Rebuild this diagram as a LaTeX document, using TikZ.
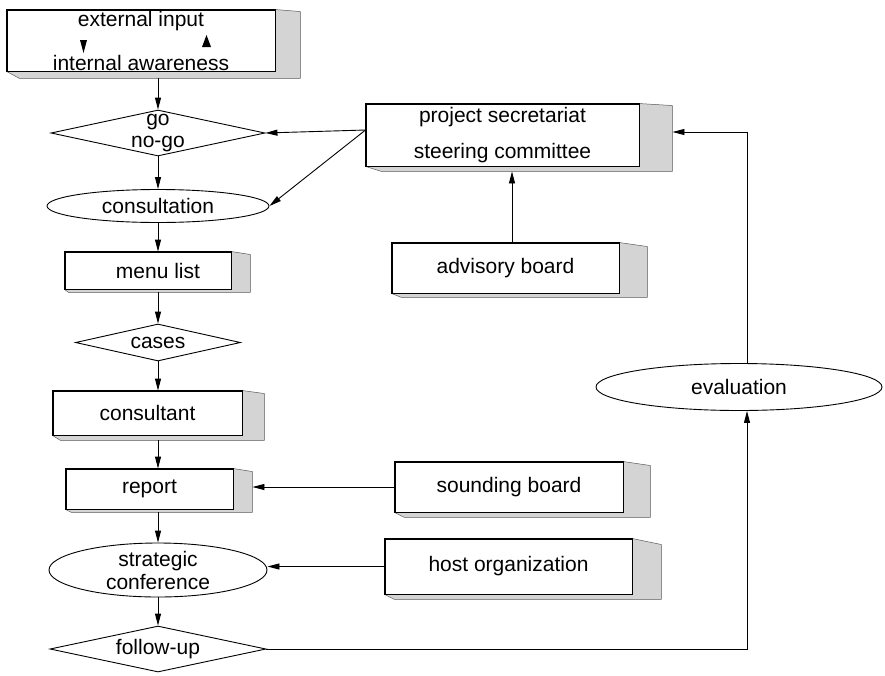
\documentclass[tikz,border=0pt]{standalone}
\usepackage{fontspec}
\setmainfont{Liberation Sans}
\usetikzlibrary{shapes.geometric,arrows.meta,calc}
\tikzset{
  base/.style={draw, line width=0.9pt, inner sep=0pt, fill=white},
  frontbox/.style={base, rectangle, align=center},
  dia/.style={base, diamond, aspect=4},
  ell/.style={base, ellipse},
  arr/.style={line width=0.9pt, -{Triangle[length=12pt,width=6pt]}},
  shadefill/.style={fill=black!17},
  shadeline/.style={line width=0.5pt, draw=black!65},
}
% #1 node name, #2 side depth, #3 top drop, #4 bottom drop, #5 strip indent
\newcommand\boxside[5]{%
  \fill[shadefill] (#1.north east) -- ++(#2,#3) -- ($(#1.south east)+(#2,#4)$)
     -- ($(#1.south west)+(#5,#4)$) -- (#1.south west) -- (#1.south east) -- cycle;
  \draw[shadeline] (#1.north east) -- ++(#2,#3) -- ($(#1.south east)+(#2,#4)$)
     -- ($(#1.south west)+(#5,#4)$) -- (#1.south west);
  \draw[line width=0.9pt] (#1.south west) rectangle (#1.north east);
}
\begin{document}
\begin{tikzpicture}[x=1pt,y=-1pt,font=\fontsize{21}{24}\selectfont]
\useasboundingbox (0,0) rectangle (885,675);
\coordinate (colx) at (158,0);

% left column
\node[frontbox, minimum width=268pt, minimum height=61pt] (top) at (141,40.5)
  {external input\\[20pt]internal awareness};
\boxside{top}{25}{2}{7}{13}
\fill (80,40) -- (87,40) -- (83.5,53) -- cycle;
\fill (202,47) -- (211,47) -- (206.5,35) -- cycle;

\node[dia, minimum width=214pt, minimum height=46pt,
  label={[align=center]center:{go\\[-2pt]no-go}}] (gng) at (158,133) {};

\node[ell, minimum width=222pt, minimum height=33pt,
  label=center:consultation] (cons) at (158,206) {};

\node[frontbox, minimum width=166pt, minimum height=37pt,
  label={[xshift=10pt]center:menu list}] (menu) at (148,270.5) {};
\boxside{menu}{19}{3}{3}{4}

\node[dia, minimum width=165pt, minimum height=37pt,
  label=center:cases] (cases) at (158,342.5) {};

\node[frontbox, minimum width=189pt, minimum height=44pt] (consult) at (147.5,413) {consultant};
\boxside{consult}{22}{3}{5}{8}

\node[frontbox, minimum width=167pt, minimum height=40pt] (report) at (149.5,489) {report};
\boxside{report}{19}{3}{3}{6}

\node[ell, minimum width=218pt, minimum height=54pt,
  label={[align=center]center:{strategic\\[-1pt]conference}}] (sc) at (158,570) {};

\node[dia, minimum width=216pt, minimum height=46pt,
  label=center:follow-up] (fu) at (158,649) {};

% right side
\node[frontbox, minimum width=273pt, minimum height=62pt] (psec) at (502.5,135)
  {project secretariat\\[12pt]steering committee};
\boxside{psec}{33}{2}{5}{16}

\node[frontbox, minimum width=227pt, minimum height=50pt] (adv) at (505.5,268) {advisory board};
\boxside{adv}{28}{4}{4}{10}

\node[ell, minimum width=286pt, minimum height=47pt,
  label=center:evaluation] (eval) at (739,387) {};

\node[frontbox, minimum width=228pt, minimum height=50pt] (sb) at (509,487) {sounding board};
\boxside{sb}{27}{4}{5}{10}

\node[frontbox, minimum width=247pt, minimum height=55pt] (host) at (508.5,566.5) {host organization};
\boxside{host}{29}{6}{5}{10}

% connectors, left column
\draw[arr, shorten <=7pt] (top.south -| colx) -- (gng.north);
\draw[arr] (gng.south) -- (cons.north);
\draw[arr] (cons.south) -- (menu.north -| colx);
\draw[arr, shorten <=3pt] (menu.south -| colx) -- (cases.north);
\draw[arr] (cases.south) -- (consult.north -| colx);
\draw[arr, shorten <=5pt] (consult.south -| colx) -- (report.north -| colx);
\draw[arr, shorten <=3pt] (report.south -| colx) -- (sc.north);
\draw[arr] (sc.south) -- (fu.north);

% connectors, right side
\draw[arr] ([yshift=5pt]psec.west) -- (gng.east);
\draw[arr] ([yshift=5pt]psec.west) -- (cons.east);
\draw[arr, shorten >=5pt] ([xshift=6.5pt]adv.north) -- ([xshift=9.5pt]psec.south);
\draw[arr] ([xshift=8pt]eval.north) |- ($(psec.east)+(33,-3)$);
\draw[arr] (fu.east) -| ([xshift=8pt]eval.south);
\draw[arr] (sb.west) -- ($(report.east |- sb.west)+(19,0)$);
\draw[arr] (host.west) -- (sc.east |- host.west);
\end{tikzpicture}
\end{document}
